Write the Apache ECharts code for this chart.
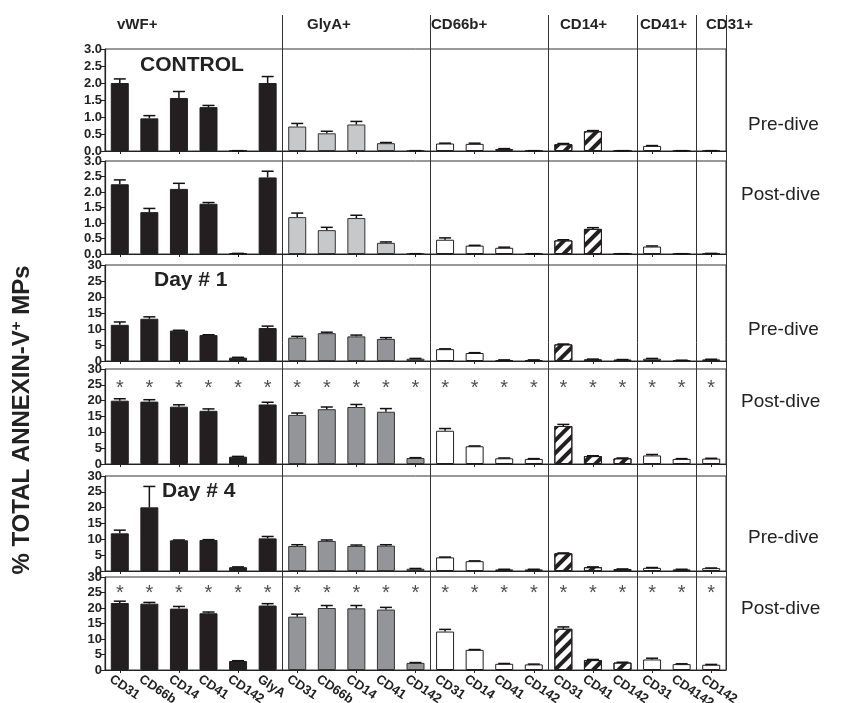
<!DOCTYPE html>
<html>
<head>
<meta charset="utf-8">
<script src="https://cdn.jsdelivr.net/npm/echarts@6/dist/echarts.min.js"></script>
<style>
html,body{margin:0;padding:0;background:#fff;}
#main{width:847px;height:703px;}
</style>
</head>
<body>
<div id="main"></div>
<script>
// categories (marker on the MP) for each parent group
var categories = ['CD31','CD66b','CD14','CD41','CD142','GlyA',
                  'CD31','CD66b','CD14','CD41','CD142',
                  'CD31','CD14','CD41','CD142',
                  'CD31','CD41','CD142',
                  'CD31','CD4142',
                  'CD142'];
var groupOf = [0,0,0,0,0,0, 1,1,1,1,1, 2,2,2,2, 3,3,3, 4,4, 5];
var groupNames = ['vWF+','GlyA+','CD66b+','CD14+','CD41+','CD31+'];
var groupStarts = [0, 6, 11, 15, 18, 20];

var panelNames = ['CONTROL','','Day # 1','','Day # 4',''];
var diveNames = ['Pre-dive','Post-dive','Pre-dive','Post-dive','Pre-dive','Post-dive'];

// % total annexin-V+ MPs, mean and upper error
var controlPre     = [2.0, 0.96, 1.56, 1.29, 0.01, 2.0, 0.72, 0.52, 0.78, 0.23, 0.01, 0.22, 0.21, 0.06, 0.01, 0.2, 0.58, 0.01, 0.15, 0.01, 0.01];
var controlPreErr  = [0.12, 0.08, 0.19, 0.05, 0, 0.19, 0.09, 0.06, 0.09, 0.02, 0, 0.01, 0.02, 0.01, 0, 0.02, 0.02, 0, 0.01, 0, 0];
var controlPost    = [2.25, 1.35, 2.1, 1.62, 0.02, 2.47, 1.19, 0.77, 1.16, 0.36, 0.01, 0.46, 0.27, 0.2, 0.01, 0.44, 0.81, 0.01, 0.24, 0.01, 0.02];
var controlPostErr = [0.14, 0.12, 0.18, 0.04, 0, 0.2, 0.13, 0.09, 0.09, 0.03, 0, 0.06, 0.01, 0.02, 0, 0.02, 0.04, 0, 0.02, 0, 0];
var day1Pre        = [11.3, 13.2, 9.5, 8.1, 1.05, 10.3, 7.3, 8.7, 7.7, 6.9, 0.7, 3.7, 2.5, 0.3, 0.3, 5.2, 0.5, 0.4, 0.7, 0.2, 0.5];
var day1PreErr     = [0.9, 0.6, 0.1, 0.1, 0.1, 0.6, 0.4, 0.3, 0.4, 0.4, 0.1, 0.1, 0.1, 0.05, 0.05, 0.1, 0.1, 0.05, 0.1, 0.05, 0.05];
var day1Post       = [20.0, 19.7, 18.1, 16.8, 2.3, 18.8, 15.5, 17.3, 18.0, 16.5, 1.9, 10.5, 5.6, 1.8, 1.6, 12.0, 2.5, 1.8, 2.7, 1.6, 1.7];
var day1PostErr    = [0.6, 0.6, 0.6, 0.6, 0.1, 0.7, 0.6, 0.7, 0.8, 1.0, 0.1, 0.7, 0.1, 0.1, 0.1, 0.5, 0.1, 0.1, 0.3, 0.1, 0.1];
var day4Pre        = [11.9, 20.1, 9.7, 9.8, 1.2, 10.3, 7.9, 9.5, 7.9, 8.0, 0.7, 4.3, 3.1, 0.5, 0.5, 5.6, 1.2, 0.6, 1.0, 0.5, 0.9];
var day4PreErr     = [1.0, 6.6, 0.1, 0.1, 0.1, 0.6, 0.4, 0.3, 0.3, 0.3, 0.1, 0.1, 0.1, 0.05, 0.05, 0.1, 0.1, 0.05, 0.1, 0.05, 0.05];
var day4Post       = [21.6, 21.4, 19.8, 18.3, 2.9, 20.8, 17.2, 20.0, 19.9, 19.5, 2.3, 12.4, 6.5, 2.0, 1.8, 13.3, 3.2, 2.4, 3.4, 1.9, 1.7];
var day4PostErr    = [0.6, 0.4, 0.7, 0.4, 0.1, 0.6, 0.8, 0.8, 0.9, 0.7, 0.1, 0.7, 0.1, 0.1, 0.1, 0.6, 0.2, 0.1, 0.4, 0.1, 0.1];

// significance (*) vs pre-dive, drawn at this level
var starLevel = [null, null, null, 24, null, 24.8];

var smallTicks = [0, 0.5, 1.0, 1.5, 2.0, 2.5, 3.0];
var bigTicks = [0, 5, 10, 15, 20, 25, 30];

var means = [controlPre, controlPost, day1Pre, day1Post, day4Pre, day4Post];
var errs = [controlPreErr, controlPostErr, day1PreErr, day1PostErr, day4PreErr, day4PostErr];

// layout
var LEFT = 105, RIGHT = 121;
var panelTop = [49, 161, 265, 369, 476, 577];
var panelH = [102, 93, 96, 95, 95, 93];
var diveY = [126, 196, 331, 403, 539, 610];
var plotW = 847 - LEFT - RIGHT;

var myChart = echarts.init(document.getElementById('main'));

var hatch = {
    symbol: 'rect', symbolSize: 1,
    dashArrayX: [1, 0], dashArrayY: [4, 5],
    rotation: -Math.PI / 4,
    color: '#231f20'
};

function barStyle(k, p) {
    var g = groupOf[k];
    if (g === 0) return { color: '#231f20', borderColor: '#231f20', borderWidth: 1 };
    if (g === 1) return { color: p < 2 ? '#c6c8ca' : '#939598', borderColor: '#333', borderWidth: 1 };
    if (g === 3) return { color: '#fff', borderColor: '#231f20', borderWidth: 1, decal: hatch };
    return { color: '#fff', borderColor: '#231f20', borderWidth: 1 };
}

function renderErr(params, api) {
    var x = api.value(0);
    var lo = api.coord([x, api.value(1)]);
    var hi = api.coord([x, api.value(2)]);
    var hw = 6;
    return {
        type: 'group',
        children: [
            { type: 'line', shape: { x1: lo[0], y1: lo[1], x2: hi[0], y2: hi[1] }, style: { stroke: '#111', lineWidth: 1.5 } },
            { type: 'line', shape: { x1: hi[0] - hw, y1: hi[1], x2: hi[0] + hw, y2: hi[1] }, style: { stroke: '#111', lineWidth: 1.5 } }
        ]
    };
}

var grids = [], xAxes = [], yAxes = [], series = [], graphics = [];

for (var p = 0; p < 6; p++) {
    var ticks = p < 2 ? smallTicks : bigTicks;
    grids.push({
        left: LEFT, width: plotW, top: panelTop[p], height: panelH[p], outerBoundsMode: 'none',
        show: true, borderColor: '#333', borderWidth: 1, backgroundColor: 'transparent'
    });
    xAxes.push({
        type: 'category', gridIndex: p, data: categories,
        axisLine: { show: true, lineStyle: { color: '#222', width: 1.2 } },
        axisTick: { show: true, alignWithLabel: true, length: 3, lineStyle: { color: '#222' } },
        axisLabel: { show: false },
        splitLine: { show: false }
    });
    yAxes.push({
        type: 'value', gridIndex: p,
        min: ticks[0], max: ticks[ticks.length - 1], interval: ticks[1] - ticks[0],
        axisLine: { show: true, lineStyle: { color: '#222', width: 1.2 } },
        axisTick: { show: true, length: 4, lineStyle: { color: '#222' } },
        axisLabel: {
            margin: 3, fontFamily: 'Liberation Sans', fontWeight: 'bold', fontSize: 13, color: '#222',
            formatter: p < 2 ? function (v) { return v.toFixed(1); } : '{value}'
        },
        splitLine: { show: false }
    });
    series.push({
        type: 'bar', xAxisIndex: p, yAxisIndex: p, barWidth: 18, z: 2,
        data: means[p].map(function (v, k) { return { value: v, itemStyle: barStyle(k, p) }; })
    });
    series.push({
        type: 'custom', xAxisIndex: p, yAxisIndex: p, z: 3,
        encode: { x: 0, y: [1, 2] },
        renderItem: renderErr,
        data: means[p].map(function (v, k) { return [k, v, v + errs[p][k]]; })
    });
    if (starLevel[p] != null) {
        series.push({
            type: 'scatter', xAxisIndex: p, yAxisIndex: p, symbolSize: 0, z: 4,
            label: { show: true, position: 'inside', formatter: '*', fontSize: 20, color: '#222', fontFamily: 'Liberation Sans' },
            data: categories.map(function (c, k) { return [k, starLevel[p]]; })
        });
    }
    if (panelNames[p]) {
        graphics.push({
            type: 'text', left: panelNames[p] === 'CONTROL' ? 140 : (p === 2 ? 154 : 162),
            top: panelTop[p] + (p === 0 ? 6 : 5),
            style: { text: panelNames[p], font: 'bold 21px "Liberation Sans"', fill: '#222' }
        });
    }
    graphics.push({
        type: 'text', left: p % 2 ? 741 : 748, top: diveY[p] - 11,
        style: { text: diveNames[p], font: '19px "Liberation Sans"', fill: '#222' }
    });
}

// overlay grid only for the group dividers, running from header to bottom
grids.push({ left: LEFT, width: plotW, top: 15, bottom: 703 - 670, show: false, outerBoundsMode: 'none' });
xAxes.push({
    type: 'category', gridIndex: 6, data: categories,
    axisLine: { show: false }, axisTick: { show: false }, axisLabel: { show: false },
    splitLine: {
        show: true,
        interval: function (index) { return groupStarts.indexOf(index) > 0; },
        lineStyle: { color: '#333', width: 1 }
    }
});
yAxes.push({ type: 'value', gridIndex: 6, show: false });

// category labels under the bottom panel, set a little to the left of the ticks
grids.push({ left: LEFT - 9, width: plotW, top: panelTop[5], height: panelH[5], show: false, outerBoundsMode: 'none' });
xAxes.push({
    type: 'category', gridIndex: 7, data: categories, position: 'bottom',
    axisLine: { show: false, onZero: false }, axisTick: { show: false }, splitLine: { show: false },
    axisLabel: {
        show: true, interval: 0, rotate: -34, margin: 8, hideOverlap: false,
        fontFamily: 'Liberation Sans', fontWeight: 'bold', fontSize: 13, color: '#222'
    }
});
yAxes.push({ type: 'value', gridIndex: 7, show: false, min: 0, max: 1 });

// group headers
var headerX = [117, 307, 431, 560, 640, 706];
groupNames.forEach(function (name, i) {
    graphics.push({
        type: 'text', left: headerX[i], top: 17,
        style: { text: name, font: 'bold 15px "Liberation Sans"', fill: '#222' }
    });
});

// y title
graphics.push({
    type: 'text', x: 22, y: 420, rotation: Math.PI / 2,
    style: {
        text: '{a|% TOTAL ANNEXIN-V}{s|+}{a| MPs}',
        align: 'center', verticalAlign: 'middle',
        rich: {
            a: { font: 'bold 24px "Liberation Sans"', fill: '#222' },
            s: { font: 'bold 15px "Liberation Sans"', fill: '#222', padding: [0, 0, 11, 0] }
        }
    }
});

var option = {
    animation: false,
    backgroundColor: '#fff',
    grid: grids,
    xAxis: xAxes,
    yAxis: yAxes,
    series: series,
    graphic: graphics
};
myChart.setOption(option);
</script>
</body>
</html>
